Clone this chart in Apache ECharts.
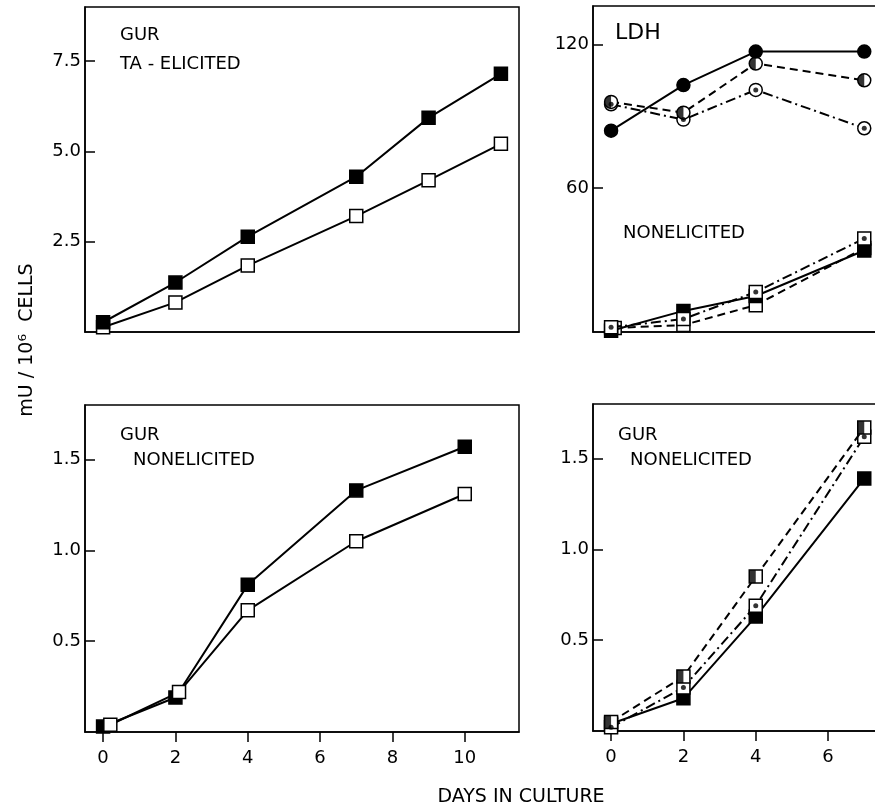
<!DOCTYPE html>
<html>
<head>
<meta charset="utf-8">
<script src="https://cdn.jsdelivr.net/npm/echarts@6/dist/echarts.min.js"></script>
<style>
  html, body { margin: 0; padding: 0; background: #fff; }
  #main { width: 875px; height: 809px; }
</style>
</head>
<body>
<div id="main"></div>
<script>
// days + values
const dayTicks = [0, 2, 4, 6, 8, 10];

// top left: GUR, TA-elicited
const taDays = [0, 2, 4, 7, 9, 11];
const taFilled = [0.27, 1.37, 2.64, 4.3, 5.93, 7.15];
const taOpen = [0.13, 0.82, 1.84, 3.21, 4.2, 5.21];
const taTicks = [2.5, 5.0, 7.5];

// bottom left: GUR, nonelicited
const neDaysFilled = [0, 2, 4, 7, 10];
const neDaysOpen = [0.2, 2.1, 4, 7, 10];
const neFilled = [0.03, 0.19, 0.81, 1.33, 1.57];
const neOpen = [0.04, 0.22, 0.67, 1.05, 1.31];
const gurTicks = [0.5, 1.0, 1.5];

// top right: LDH
const ldhDays = [0, 2, 4, 7];
const ldhCircleSolid = [84, 103, 117, 117];
const ldhCircleHalf = [96, 91.5, 112, 105];
const ldhCircleDot = [95, 88.6, 101, 85];
const ldhSqDaysOpen = [0.1, 2, 4, 7];
const ldhSqSolid = [0.5, 8.8, 15, 34];
const ldhSqOpen = [1.7, 2.9, 11.2, 35];
const ldhSqDot = [2, 5.4, 16.7, 39];
const ldhTicks = [60, 120];

// bottom right: GUR, nonelicited (3 lines)
const brDays = [0, 2, 4, 7];
const brSolid = [0.04, 0.18, 0.63, 1.39];
const brHalf = [0.05, 0.3, 0.85, 1.67];
const brDot = [0.02, 0.24, 0.69, 1.62];

const FONT = 'DejaVu Sans';
const chart = echarts.init(document.getElementById('main'));

const zip = (xs, ys) => xs.map((x, i) => [x, ys[i]]);

const DASHED = [8, 5];
const DASHDOT = [10, 4, 2, 4];
const SYM = 13;

function line(idx, xs, ys, opts) {
  return {
    type: 'line',
    xAxisIndex: idx,
    yAxisIndex: idx,
    data: zip(xs, ys),
    symbol: opts.symbol || 'rect',
    symbolSize: SYM,
    showAllSymbol: true,
    lineStyle: { color: '#000', width: 2, type: opts.dash || 'solid' },
    itemStyle: {
      color: opts.filled ? '#000' : '#fff',
      borderColor: '#000',
      borderWidth: 1.5,
      opacity: 1
    },
    z: opts.z || 2,
    silent: true
  };
}

// extra marks drawn on top of the open symbols (centre dot / half fill)
function overlay(idx, xs, ys, symbol, size, offset) {
  return {
    type: 'scatter',
    xAxisIndex: idx,
    yAxisIndex: idx,
    data: zip(xs, ys),
    symbol: symbol,
    symbolSize: size,
    symbolOffset: offset || [0, 0],
    itemStyle: { color: '#000' },
    z: 5,
    silent: true
  };
}

const HALF_DISK = 'path://M1,0 A1,1 0 0,0 1,2 Z';
const HALF = [SYM / 2, SYM];
const HALF_OFF = [-SYM / 4, 0];

function xAxis(idx, labels) {
  return {
    type: 'value',
    gridIndex: idx,
    min: -0.5,
    max: 11.5,
    axisLine: { show: true, onZero: false, lineStyle: { color: '#000', width: 1.5 } },
    axisTick: { show: labels, inside: false, length: 10, customValues: dayTicks, lineStyle: { color: '#000', width: 1.5 } },
    axisLabel: { show: labels, customValues: dayTicks, color: '#000', fontFamily: FONT, fontSize: 18, margin: 17 },
    splitLine: { show: false }
  };
}

function yAxis(idx, max, ticks, dec) {
  return {
    type: 'value',
    gridIndex: idx,
    min: 0,
    max: max,
    axisLine: { show: true, onZero: false, lineStyle: { color: '#000', width: 1.5 } },
    axisTick: { show: true, inside: true, length: 10, customValues: ticks, lineStyle: { color: '#000', width: 1.5 } },
    axisLabel: {
      customValues: ticks, color: '#000', fontFamily: FONT, fontSize: 18, margin: 4,
      formatter: v => v.toFixed(dec)
    },
    splitLine: { show: false }
  };
}

function txt(x, y, text, size, align, rot) {
  return {
    type: 'text',
    x: x, y: y,
    rotation: rot || 0,
    silent: true,
    style: {
      text: text,
      fill: '#000',
      font: (size || 18) + 'px "' + FONT + '"',
      textAlign: align || 'left',
      textVerticalAlign: 'middle'
    }
  };
}

const gridBox = {
  show: true, borderColor: '#000', borderWidth: 1.5, backgroundColor: 'transparent',
  outerBoundsMode: 'none', containLabel: false
};

// right-hand panels run off the page edge, as in the scan
const option = {
  backgroundColor: '#fff',
  animation: false,
  grid: [
    Object.assign({ left: 85, top: 7, width: 434, height: 325 }, gridBox),
    Object.assign({ left: 593, top: 6, width: 434, height: 326 }, gridBox),
    Object.assign({ left: 85, top: 405, width: 434, height: 327 }, gridBox),
    Object.assign({ left: 593, top: 404, width: 434, height: 327 }, gridBox)
  ],
  xAxis: [xAxis(0, false), xAxis(1, false), xAxis(2, true), xAxis(3, true)],
  yAxis: [
    yAxis(0, 9, taTicks, 1),
    yAxis(1, 136, ldhTicks, 0),
    yAxis(2, 1.8, gurTicks, 1),
    yAxis(3, 1.8, gurTicks, 1)
  ],
  series: [
    // top left
    line(0, taDays, taOpen, { filled: false }),
    line(0, taDays, taFilled, { filled: true, z: 3 }),

    // top right, circles
    line(1, ldhDays, ldhCircleDot, { symbol: 'circle', dash: DASHDOT }),
    overlay(1, ldhDays, ldhCircleDot, 'circle', 5),
    line(1, ldhDays, ldhCircleHalf, { symbol: 'circle', dash: DASHED, z: 3 }),
    overlay(1, ldhDays, ldhCircleHalf, HALF_DISK, HALF, HALF_OFF),
    line(1, ldhDays, ldhCircleSolid, { symbol: 'circle', filled: true, z: 4 }),
    // top right, squares
    line(1, ldhSqDaysOpen, ldhSqOpen, { dash: DASHED }),
    line(1, ldhDays, ldhSqSolid, { filled: true, z: 3 }),
    line(1, ldhDays, ldhSqDot, { dash: DASHDOT, z: 4 }),
    overlay(1, ldhDays, ldhSqDot, 'circle', 5),

    // bottom left
    line(2, neDaysFilled, neFilled, { filled: true }),
    line(2, neDaysOpen, neOpen, { filled: false, z: 3 }),

    // bottom right
    line(3, brDays, brSolid, { filled: true }),
    line(3, brDays, brDot, { dash: DASHDOT, z: 3 }),
    overlay(3, brDays, brDot, 'circle', 5),
    line(3, brDays, brHalf, { dash: DASHED, z: 4 }),
    overlay(3, brDays, brHalf, 'rect', HALF, HALF_OFF)
  ],
  graphic: [
    txt(120, 35, 'GUR'),
    txt(120, 64, 'TA - ELICITED'),
    txt(615, 33, 'LDH', 22),
    txt(623, 233, 'NONELICITED'),
    txt(120, 435, 'GUR'),
    txt(133, 460, 'NONELICITED'),
    txt(618, 435, 'GUR'),
    txt(630, 460, 'NONELICITED'),
    txt(521, 797, 'DAYS IN CULTURE', 19, 'center'),
    txt(27, 340, 'mU / 10\u2076  CELLS', 19, 'center', Math.PI / 2)
  ]
};

chart.setOption(option);
</script>
</body>
</html>
